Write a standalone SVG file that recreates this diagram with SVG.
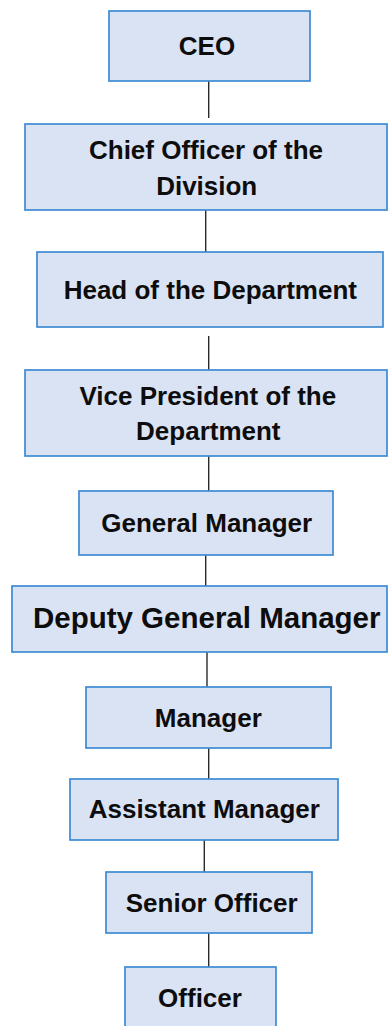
<svg xmlns="http://www.w3.org/2000/svg" width="388" height="1026" viewBox="0 0 388 1026">
  <style>
    .box { fill: #dae3f3; stroke: #3d8bd3; stroke-width: 1.7; }
    .lbl { font-family: "Liberation Sans", Arial, sans-serif; font-weight: bold; font-size: 26px; fill: #0d0d0d; text-anchor: middle; }
    .big { font-size: 29.5px; }
    .link { stroke: #2b2b2b; stroke-width: 1.4; fill: none; }
  </style>
  <rect width="388" height="1026" fill="#ffffff"/>

  <!-- reporting lines -->
  <g id="connectors">
    <line class="link" x1="208.7" y1="81" x2="208.7" y2="118"/>
    <line class="link" x1="205.7" y1="210" x2="205.7" y2="253"/>
    <line class="link" x1="208.7" y1="336" x2="208.7" y2="370"/>
    <line class="link" x1="208.7" y1="456" x2="208.7" y2="492"/>
    <line class="link" x1="205.7" y1="555" x2="205.7" y2="587"/>
    <line class="link" x1="207" y1="652" x2="207" y2="688"/>
    <line class="link" x1="208.7" y1="748" x2="208.7" y2="781"/>
    <line class="link" x1="204.3" y1="840" x2="204.3" y2="872"/>
    <line class="link" x1="208.7" y1="933" x2="208.7" y2="967"/>
  </g>

  <g id="ceo">
    <rect class="box" x="109" y="11" width="201" height="70"/>
    <text class="lbl" x="207" y="55">CEO</text>
  </g>

  <g id="chief-officer">
    <rect class="box" x="25" y="124" width="362" height="86"/>
    <text class="lbl" x="206" y="159">Chief Officer of the</text>
    <text class="lbl" x="206.7" y="195">Division</text>
  </g>

  <g id="head-of-department">
    <rect class="box" x="37" y="252" width="346" height="75"/>
    <text class="lbl" x="210.3" y="299">Head of the Department</text>
  </g>

  <g id="vice-president">
    <rect class="box" x="25" y="370" width="362" height="86"/>
    <text class="lbl" x="207.8" y="405">Vice President of the</text>
    <text class="lbl" x="208.3" y="440">Department</text>
  </g>

  <g id="general-manager">
    <rect class="box" x="79" y="491" width="254" height="64"/>
    <text class="lbl" x="206.7" y="532">General Manager</text>
  </g>

  <g id="deputy-general-manager">
    <rect class="box" x="12" y="586" width="375" height="66"/>
    <text class="lbl big" x="206.7" y="628">Deputy General Manager</text>
  </g>

  <g id="manager">
    <rect class="box" x="86" y="687" width="245" height="61"/>
    <text class="lbl" x="208.3" y="727">Manager</text>
  </g>

  <g id="assistant-manager">
    <rect class="box" x="70" y="779" width="268" height="61"/>
    <text class="lbl" x="204.3" y="818">Assistant Manager</text>
  </g>

  <g id="senior-officer">
    <rect class="box" x="106" y="872" width="206" height="61"/>
    <text class="lbl" x="211.7" y="912">Senior Officer</text>
  </g>

  <g id="officer">
    <rect class="box" x="125" y="967" width="151" height="64"/>
    <text class="lbl" x="200" y="1007">Officer</text>
  </g>
</svg>
